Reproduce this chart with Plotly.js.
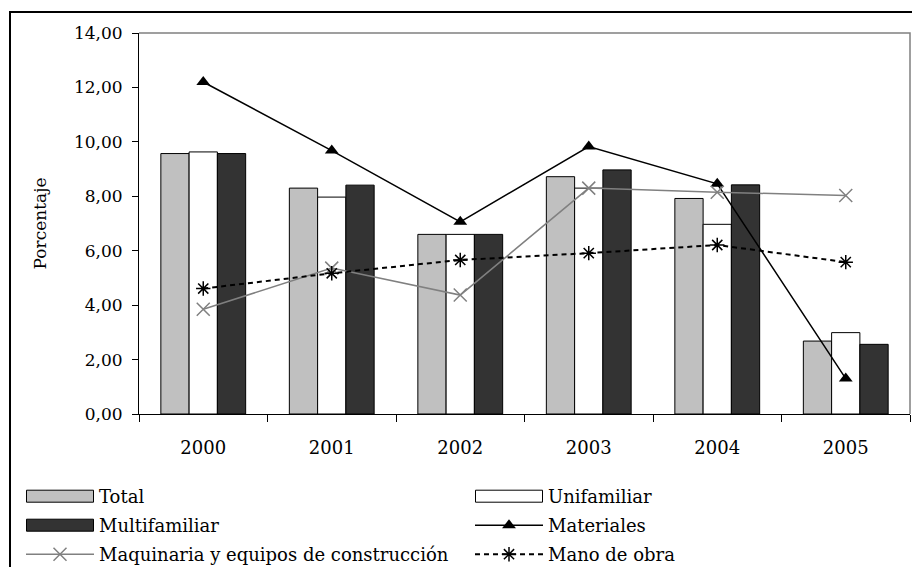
<!DOCTYPE html>
<html>
<head>
<meta charset="utf-8">
<script src="https://cdn.plot.ly/plotly-3.0.1.min.js"></script>
<style>
html,body{margin:0;padding:0;background:#fff;}
#chart{width:912px;height:567px;}
</style>
</head>
<body>
<div id="chart"></div>
<script>
const years = ["2000", "2001", "2002", "2003", "2004", "2005"];
const total = [9.57, 8.30, 6.60, 8.72, 7.92, 2.68];
const unifamiliar = [9.63, 7.97, 6.60, 8.30, 6.97, 2.99];
const multifamiliar = [9.57, 8.41, 6.60, 8.97, 8.42, 2.56];
const materiales = [12.20, 9.68, 7.06, 9.83, 8.46, 1.30];
const maquinaria = [3.85, 5.36, 4.37, 8.30, 8.15, 8.03];
const manoDeObra = [4.61, 5.17, 5.66, 5.91, 6.21, 5.58];

const FONT = "DejaVu Serif";
const barLine = {color: "#000", width: 1};

const traces = [
  {type: "bar", name: "Total", x: years, y: total, legend: "legend",
   marker: {color: "#c0c0c0", line: barLine}},
  {type: "bar", name: "Unifamiliar", x: years, y: unifamiliar, legend: "legend",
   marker: {color: "#ffffff", line: barLine}},
  {type: "bar", name: "Multifamiliar", x: years, y: multifamiliar, legend: "legend2",
   marker: {color: "#333333", line: barLine}},
  {type: "scatter", mode: "lines+markers", name: "Materiales", x: years, y: materiales, legend: "legend2",
   line: {color: "#000", width: 1.5},
   marker: {symbol: "triangle-up", size: 12, color: "#000"}},
  {type: "scatter", mode: "lines+markers", name: "Maquinaria y equipos de construcción", x: years, y: maquinaria, legend: "legend3",
   line: {color: "#808080", width: 1.5},
   marker: {symbol: "x-thin-open", size: 13, color: "#808080", line: {color: "#808080", width: 1.5}}},
  {type: "scatter", mode: "lines+markers", name: "Mano de obra", x: years, y: manoDeObra, legend: "legend3",
   line: {color: "#000", width: 2, dash: "5px,4px"},
   marker: {symbol: "asterisk-open", size: 12, color: "#000", line: {color: "#000", width: 1.5}}}
];

const L = 139, R = 910, T = 33, B = 414, W = 912, H = 567;
const px = v => (v - L) / (R - L);
const py = v => (B - v) / (B - T);

function legendRow(topPx) {
  return {
    orientation: "h",
    x: px(21), xanchor: "left",
    y: py(topPx), yanchor: "top",
    entrywidth: 366, entrywidthmode: "pixels",
    itemwidth: 68,
    font: {family: FONT, size: 18, color: "#000"},
    traceorder: "normal",
    bgcolor: "rgba(0,0,0,0)"
  };
}

const layout = {
  width: W, height: H,
  margin: {l: L, r: W - R, t: T, b: H - B, pad: 0, autoexpand: false},
  paper_bgcolor: "#fff", plot_bgcolor: "#fff",
  font: {family: FONT, size: 17, color: "#000"},
  separators: ",.",
  barmode: "group",
  bargap: 0.34,
  bargroupgap: 0,
  showlegend: true,
  xaxis: {
    type: "category",
    showgrid: false, zeroline: false,
    showline: true, linecolor: "#000", linewidth: 1,
    ticks: "outside", ticklen: 7, tickcolor: "#000", tickwidth: 1,
    tickson: "boundaries",
    ticklabelstandoff: 17,
    tickfont: {family: FONT, size: 18},
    fixedrange: true
  },
  yaxis: {
    range: [0, 14], dtick: 2, tick0: 0,
    tickformat: ".2f",
    showgrid: false, zeroline: false,
    showline: true, linecolor: "#000", linewidth: 1,
    ticks: "outside", ticklen: 6, tickcolor: "#000",
    ticklabelstandoff: 6,
    tickfont: {family: FONT, size: 17},
    title: {text: "Porcentaje", font: {family: FONT, size: 17}, standoff: 22},
    fixedrange: true
  },
  legend: legendRow(478),
  legend2: legendRow(507),
  legend3: legendRow(536),
  shapes: [
    {type: "path", xref: "paper", yref: "paper",
     path: `M ${px(10)},${py(600)} L ${px(10)},${py(12)} L ${px(930)},${py(12)}`,
     line: {color: "#000", width: 2}},
    {type: "path", xref: "paper", yref: "paper",
     path: "M 0,1 L 1,1 L 1,0",
     line: {color: "#808080", width: 1.5}}
  ]
};

Plotly.newPlot("chart", traces, layout, {staticPlot: true, displayModeBar: false}).then(function (gd) {
  gd.querySelectorAll("path.legendbar, path.legendundefined").forEach(function (p) {
    p.setAttribute("d", "M33.5,6H-33.5V-6H33.5Z");
  });
});
</script>
</body>
</html>
